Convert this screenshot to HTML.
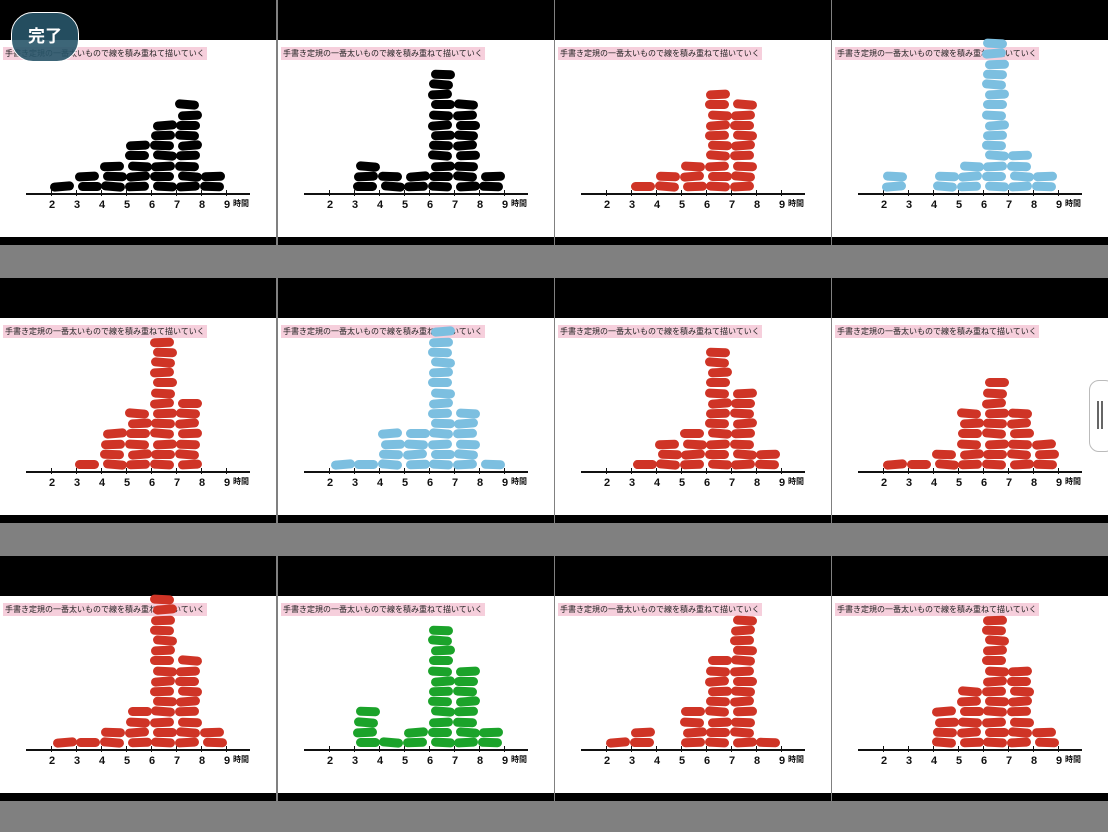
<!DOCTYPE html>
<html><head><meta charset="utf-8">
<style>
html,body{margin:0;padding:0;background:#808080;width:1108px;height:832px;overflow:hidden;position:relative;font-family:"Liberation Sans","Noto Sans CJK JP",sans-serif}
.cell{position:absolute;width:276px;height:278px;background:#808080}
.top{position:absolute;left:0;top:0;width:276px;height:40px;background:#000}
.wh{position:absolute;left:0;top:40px;width:276px;height:197px;background:#fff}
.bot{position:absolute;left:0;top:237px;width:276px;height:8px;background:#000}
.lab{position:absolute;left:3px;top:7px;height:13px;padding:0 2px;background:#f6cfdc;font-size:8px;line-height:13px;color:#222;white-space:nowrap}
.axis{position:absolute;left:26px;top:153px;width:224px;height:2px;background:#111}
.tick{position:absolute;top:150px;width:1px;height:6px;background:#111}
.num{position:absolute;top:159px;font-size:11px;font-weight:bold;color:#111;width:12px;margin-left:-6px;text-align:center}
.unit{position:absolute;left:233px;top:158px;font-size:8px;font-weight:bold;color:#111}
.pill{position:absolute;width:24px;height:9px;border-radius:4.5px}
.btn{position:absolute;left:11px;top:12px;width:66px;height:48px;border-radius:22px;background:rgba(40,85,105,0.9);border:1.5px solid #fff;color:#fff;font-size:17px;font-weight:bold;text-align:center;line-height:48px;font-family:"Liberation Sans","Noto Sans CJK JP",sans-serif}
.hdl{position:absolute;left:1089px;top:380px;width:24px;height:70px;border-radius:10px;background:#fff;border:1px solid #bbb}
</style></head><body>
<div id="root"></div>
<div class="btn">完了</div>
<div class="hdl"><div style="position:absolute;left:7px;top:20px;width:2px;height:28px;background:#666"></div><div style="position:absolute;left:11px;top:20px;width:2px;height:28px;background:#666"></div></div>
<script>
var K='#000',R='#cf3426',B='#7cbfe0',G='#1ba32a';
var cells=[
[K,[1,2,3,5,7,9,2]],
[K,[0,3,2,2,12,9,2]],
[R,[0,1,2,3,10,9,0]],
[B,[2,0,2,3,16,4,2]],
[R,[0,1,4,6,13,7,0]],
[B,[1,1,4,4,14,6,1]],
[R,[0,1,3,4,12,8,2]],
[R,[1,1,2,6,9,6,3]],
[R,[1,1,2,4,15,9,2]],
[G,[0,4,1,2,12,8,2]],
[R,[1,2,0,4,9,13,1]],
[R,[0,0,4,6,13,8,2]]
];
var xs=[0,278,555,832],ys=[0,278,556];
var h='';
cells.forEach(function(c,i){
 var x=xs[i%4],y=ys[Math.floor(i/4)];
 h+='<div class="cell" style="left:'+x+'px;top:'+y+'px"><div class="top"></div><div class="wh">';
 h+='<div class="lab">手書き定規の一番太いもので線を積み重ねて描いていく</div>';
 h+='<div class="axis"></div>';
 for(var t=0;t<8;t++){var tx=51+25*t;h+='<div class="tick" style="left:'+tx+'px"></div><div class="num" style="left:'+(tx+1)+'px">'+(t+2)+'</div>';}
 h+='<div class="unit">時間</div>';
 c[1].forEach(function(n,b){
  for(var k=0;k<n;k++){
   var py=142-k*10.2; if(py<-2)continue;
   var rot=((i*7+b*3+k*5)%7-3)*1.5;
   var dx=((i+b*2+k)%3-1)*1.5;
   h+='<div class="pill" style="left:'+(51+25*b+dx)+'px;top:'+py.toFixed(1)+'px;background:'+c[0]+';transform:rotate('+rot+'deg)"></div>';
  }
 });
 h+='</div><div class="bot"></div></div>';
});
document.getElementById('root').innerHTML=h;
</script>
</body></html>
